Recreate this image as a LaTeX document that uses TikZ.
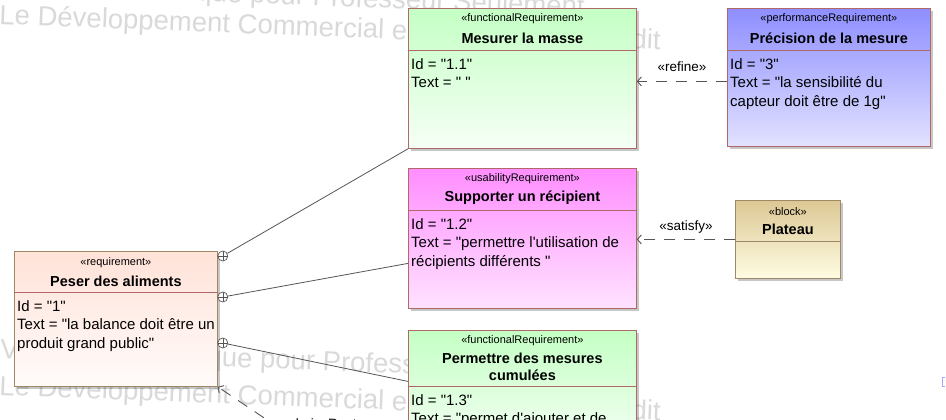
\documentclass[tikz,border=0pt]{standalone}
\usepackage{fontspec}
\setmainfont{Liberation Sans}[Ligatures=TeXOff]
\usetikzlibrary{positioning,arrows.meta,shadows}
\definecolor{edgered}{HTML}{B06868}
\definecolor{edgetan}{HTML}{A08866}
\definecolor{funcA}{HTML}{C4FFC4}
\definecolor{funcB}{HTML}{F6FFF6}
\definecolor{perfA}{HTML}{8E8EFF}
\definecolor{perfB}{HTML}{E2E2FF}
\definecolor{usabA}{HTML}{FF8EFF}
\definecolor{usabB}{HTML}{FFE2FF}
\definecolor{blockA}{HTML}{DCC894}
\definecolor{blockB}{HTML}{FFFCE2}
\definecolor{reqA}{HTML}{FFE2D8}
\definecolor{reqB}{HTML}{FFFBFA}
\definecolor{linegray}{HTML}{555555}
\definecolor{wmgray}{HTML}{D9D9D9}
\tikzset{
  box/.style={draw=edgered, line width=0.8pt, anchor=north west, inner sep=0pt, shading angle=135,
    drop shadow={shadow xshift=2.5pt, shadow yshift=-2.5pt, fill=black, opacity=.22}},
  sepline/.style={draw=edgered, line width=0.8pt},
  stereo/.style={font=\fontsize{11}{13}\selectfont, inner sep=0pt},
  title/.style={font=\fontsize{14.5}{16.5}\bfseries\selectfont, align=center, inner sep=0pt},
  body/.style={font=\fontsize{15}{18.5}\selectfont, align=left, anchor=north west, inner sep=0pt},
  watermark/.style={text=wmgray, font=\fontsize{27.5}{30}\selectfont, anchor=base west, rotate=-2.2, inner sep=0pt},
  contain/.style={circle, draw=linegray, fill=white, line width=0.7pt, minimum size=10pt, inner sep=0pt,
    path picture={\draw[linegray, line width=0.6pt]
      (path picture bounding box.north) -- (path picture bounding box.south)
      (path picture bounding box.west) -- (path picture bounding box.east);}},
  assoc/.style={draw=linegray, line width=0.8pt},
  trace/.style={draw=linegray, line width=0.9pt, dash pattern=on 11pt off 9pt,
    -{Straight Barb[length=4pt,width=9pt]}},
  tlabel/.style={font=\fontsize{13.5}{15}\selectfont, inner sep=0pt}
}
\begin{document}
\begin{tikzpicture}[x=1pt,y=-1pt]
  % pixel grid of the 946x420 screenshot, y pointing down
  \useasboundingbox (0,0) rectangle (946,420);
  \clip (0,0) rectangle (946,420);
  \fill[white] (0,0) rectangle (946,420);
  % watermark behind everything
  \node[watermark] (wm1) at (-10,-7) {Version Académique pour Professeur Seulement};
  \node[watermark] (wm2) at (-1,24) {Le Développement Commercial est strictement interdit};
  \node[watermark] (wm3) at (0,358) {Version Académique pour Professeur Seulement};
  \node[watermark] (wm4) at (-1,395) {Le Développement Commercial est strictement interdit};

  % requirement boxes
  \node[box, top color=funcA, bottom color=funcB, minimum width=228pt, minimum height=140pt] (mesure) at (408,8) {};
  \node[box, top color=perfA, bottom color=perfB, minimum width=203pt, minimum height=138pt] (precision) at (727,8) {};
  \node[box, top color=usabA, bottom color=usabB, minimum width=228pt, minimum height=140pt] (support) at (408,168) {};
  \node[box, draw=edgetan, top color=blockA, bottom color=blockB, minimum width=105pt, minimum height=78pt] (plateau) at (735,200) {};
  \node[box, draw=edgetan, top color=reqA, bottom color=reqB, minimum width=203pt, minimum height=135pt] (peser) at (14,251) {};
  \node[box, top color=funcA, bottom color=funcB, minimum width=228pt, minimum height=120pt] (cumul) at (408,330) {};

  % header compartments
  \foreach \b/\s in {mesure/42,precision/42,support/42,peser/41,cumul/56}
    \draw[sepline] ([yshift=-\s pt]\b.north west) -- ([yshift=-\s pt]\b.north east);
  \draw[sepline, draw=edgetan] ([yshift=-41pt]plateau.north west) -- ([yshift=-41pt]plateau.north east);

  \node[stereo] (mesure-st) at ([yshift=-11pt]mesure.north) {«functionalRequirement»};
  \node[title] (mesure-nm) at ([yshift=-30pt]mesure.north) {Mesurer la masse};
  \node[body] (mesure-bd) at ([xshift=3pt,yshift=-48pt]mesure.north west) {\strut Id = "1.1"\\Text = " "};

  \node[stereo] (precision-st) at ([yshift=-11pt]precision.north) {«performanceRequirement»};
  \node[title] (precision-nm) at ([yshift=-30pt]precision.north) {Précision de la mesure};
  \node[body] (precision-bd) at ([xshift=3pt,yshift=-48pt]precision.north west) {\strut Id = "3"\\Text = "la sensibilité du\\capteur doit être de 1g"};

  \node[stereo] (support-st) at ([yshift=-11pt]support.north) {«usabilityRequirement»};
  \node[title] (support-nm) at ([yshift=-30pt]support.north) {Supporter un récipient};
  \node[body] (support-bd) at ([xshift=3pt,yshift=-48pt]support.north west) {\strut Id = "1.2"\\Text = "permettre l'utilisation de\\récipients différents "};

  \node[stereo] (plateau-st) at ([yshift=-12pt]plateau.north) {«block»};
  \node[title] (plateau-nm) at ([yshift=-29pt]plateau.north) {Plateau};

  \node[stereo] (peser-st) at ([yshift=-12pt]peser.north) {«requirement»};
  \node[title] (peser-nm) at ([yshift=-30pt]peser.north) {Peser des aliments};
  \node[body] (peser-bd) at ([xshift=3pt,yshift=-47pt]peser.north west) {\strut Id = "1"\\Text = "la balance doit être un\\produit grand public"};

  \node[stereo] (cumul-st) at ([yshift=-11pt]cumul.north) {«functionalRequirement»};
  \node[title] (cumul-nm) at ([yshift=-37pt]cumul.north) {Permettre des mesures\\cumulées};
  \node[body] (cumul-bd) at ([xshift=3pt,yshift=-62pt]cumul.north west) {\strut Id = "1.3"\\Text = "permet d'ajouter et de};

  % containment
  \node[contain] (c1) at ([xshift=5pt,yshift=-5pt]peser.north east) {};
  \node[contain] (c2) at ([xshift=5pt,yshift=-46pt]peser.north east) {};
  \node[contain] (c3) at ([xshift=5pt,yshift=-92pt]peser.north east) {};
  \draw[assoc] (c1) -- (mesure.south west);
  \draw[assoc] (c2) -- ([yshift=-25pt]support.west);
  \draw[assoc] (c3) -- ([yshift=9pt]cumul.west);

  % refine, satisfy, deriveReqt
  \draw[trace] ([yshift=-4pt]precision.west) -- ([yshift=-4pt]precision.west -| mesure.east)
    node[tlabel, midway, above=9pt] {«refine»};
  \draw[trace] (plateau.west) -- (plateau.west -| support.east)
    node[tlabel, midway, above=6pt] {«satisfy»};
  \coordinate (dr) at (297,440);
  \draw[trace] (dr) -- (peser.south east);
  \node[tlabel, anchor=base] (dr-lb) at (324,428) {«deriveReqt»};
  % fragment at the right edge
  \draw[blue!35, line width=1pt] (945,377) -- (942,377) -- (942,386) -- (945,386);
\end{tikzpicture}
\end{document}
